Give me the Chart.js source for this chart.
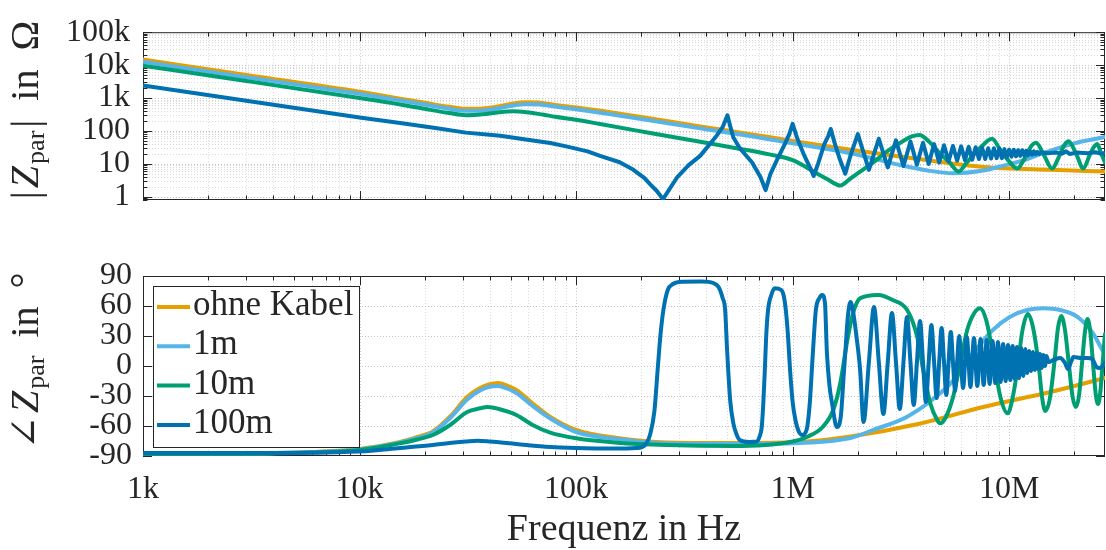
<!DOCTYPE html>
<html>
<head>
<meta charset="utf-8">
<title>Z_par Frequenzgang</title>
<script src="https://cdn.jsdelivr.net/npm/chart.js@4.4.0/dist/chart.umd.min.js"></script>
<style>
  html, body { margin: 0; padding: 0; background: #ffffff; }
  #wrap { position: relative; width: 1106px; height: 550px; overflow: hidden; background: #ffffff; }
  #wrap canvas { position: absolute; left: 0; }
  #magCanvas { top: 0; }
  #phaseCanvas { top: 240px; }
  .ttl { position: absolute; font-family: 'Liberation Serif', 'Times New Roman', 'DejaVu Serif', serif;
         color: #262626; white-space: nowrap; line-height: 40px; height: 40px; font-size: 40px; }
  .vt { transform: translate(-50%, -50%) rotate(-90deg); }
  .ttl .it { font-style: italic; }
  .ttl .sb { font-size: 0.65em; position: relative; top: 0.24em; }
  .ttl .g { display: inline-block; }
  #magTitle { left: 25px; top: 110px; }
  #phaseTitle { left: 25px; top: 361px; }
  #freqTitle { left: 624px; top: 508px; transform: translateX(-50%); font-size: 38px; line-height: 38px; height: 38px; }
</style>
</head>
<body>
<div id="wrap">
  <canvas id="magCanvas" width="1106" height="240" style="width:1106px;height:240px"></canvas>
  <canvas id="phaseCanvas" width="1106" height="310" style="width:1106px;height:310px"></canvas>
  <div id="magTitle" class="ttl vt">|<span class="g" style="width:3px"></span><span class="it">Z</span><span class="g" style="width:2px"></span><span class="sb">par</span><span class="g" style="width:3px"></span>|<span class="g" style="width:19px"></span>in<span class="g" style="width:19px"></span>&#937;</div>
  <div id="phaseTitle" class="ttl vt">&#8736;<span class="g" style="width:3px"></span><span class="it">Z</span><span class="g" style="width:2px"></span><span class="sb">par</span><span class="g" style="width:18px"></span>in<span class="g" style="width:18px"></span>&#176;</div>
  <div id="freqTitle" class="ttl">Frequenz in Hz</div>
</div>
<script>
// ---------------- data ----------------
const seriesLabels = ['ohne Kabel', '1m', '10m', '100m'];
const seriesColors = ['#E69F00', '#56B4E9', '#009E73', '#0072B2'];

const xMajorTicks = [1e3, 1e4, 1e5, 1e6, 1e7];
const xTickLabels = ['1k', '10k', '100k', '1M', '10M'];
const xRange = [1e3, 2.77e7];

const magMajorTicks = [1, 10, 100, 1e3, 1e4, 1e5];
const magTickLabels = ['1', '10', '100', '1k', '10k', '100k'];
const magRange = [0.8, 1e5];

const phaseTicks = [-90, -60, -30, 0, 30, 60, 90];
const phaseTickLabels = ['-90', '-60', '-30', '0', '30', '60', '90'];
const phaseRange = [-90, 90];

// |Z_par| in Ohm
const fMagOhne = [1e3, 3e3, 1e4, 1.54e4, 2e4, 2.6e4, 3.1e4, 3.7e4, 4.4e4, 5e4, 5.9e4, 6.8e4, 8e4, 1e5, 1.3e5, 2e5, 3.74e5, 6.37e5, 1e6, 1.85e6, 3.8e6, 7.6e6, 1.55e7, 2.77e7];
const magOhne  = [14800, 5000, 1550, 960, 720, 540, 470, 480, 560, 660, 740, 720, 620, 520, 410, 265, 138, 80, 50, 27, 14, 8.1, 6.6, 5.9];

const fMag1m = [1e3, 3e3, 1e4, 1.54e4, 2e4, 2.6e4, 3.1e4, 3.7e4, 4.4e4, 5e4, 5.9e4, 6.8e4, 8e4, 1e5, 1.3e5, 2e5, 3.74e5, 6.37e5, 1e6, 1.85e6, 3.14e6, 4.2e6, 5.5e6, 7.5e6, 9.5e6, 1.15e7, 1.4e7, 1.66e7, 2e7, 2.34e7, 2.77e7];
const mag1m  = [12600, 4300, 1350, 850, 640, 470, 410, 420, 490, 580, 650, 640, 550, 455, 355, 232, 120, 70, 42, 21, 9.2, 6.3, 5.2, 6.2, 9, 12.5, 20, 29, 42, 53, 66];

const fMag10m = [1e3, 3e3, 1e4, 1.54e4, 2e4, 2.6e4, 3.1e4, 3.7e4, 4.4e4, 5.1e4, 5.9e4, 7e4, 8e4, 1e5, 1.29e5, 2.2e5, 3.74e5, 5.5e5, 7.8e5, 1e6, 1.29e6, 1.45e6, 1.66e6, 1.85e6, 2.1e6, 2.35e6, 2.8e6, 3.2e6, 3.55e6, 3.85e6, 4.3e6, 4.75e6, 5.3e6, 5.85e6, 6.3e6, 6.9e6, 7.6e6, 8.0e6, 8.35e6, 9.0e6, 9.8e6, 1.09e7, 1.18e7, 1.27e7, 1.33e7, 1.45e7, 1.58e7, 1.7e7, 1.8e7, 1.88e7, 2.04e7, 2.2e7, 2.35e7, 2.45e7, 2.55e7, 2.65e7, 2.77e7];
const mag10m  = [9600, 3300, 1000, 640, 470, 350, 300, 320, 370, 395, 370, 315, 270, 220, 162, 87, 47, 30, 19.5, 13, 5.2, 3.4, 2.2, 3.6, 6.5, 11, 27, 47, 68, 76, 45, 22, 11, 5.9, 10, 20, 38, 52, 58, 30, 14, 7.2, 15, 36, 44, 18, 7.2, 17, 38, 49, 20, 7.2, 18, 31, 40, 22, 11];

const fMag100m = [1e3, 3e3, 1e4, 1.54e4, 2.2e4, 3.1e4, 4.46e4, 6.3e4, 7.6e4, 9e4, 1.13e5, 1.29e5, 1.59e5, 1.84e5, 2.07e5, 2.2e5, 2.36e5, 2.52e5, 2.92e5, 3.3e5, 3.74e5, 4.4e5, 4.75e5, 5.0e5, 5.15e5, 5.32e5, 5.7e5, 6.5e5, 7.1e5, 7.5e5, 7.9e5, 8.5e5, 9.2e5, 9.65e5, 1.0e6, 1.05e6, 1.12e6, 1.2e6, 1.25e6, 1.31e6, 1.4e6, 1.46e6, 1.5e6, 1.56e6, 1.65e6, 1.75e6, 1.85e6, 1.94e6, 2.0e6,
  2.25e6, 2.5e6, 2.75e6, 3.0e6, 3.25e6, 3.5e6, 3.75e6, 4.0e6, 4.25e6, 4.5e6, 4.75e6, 5.0e6, 5.25e6, 5.5e6, 5.75e6, 6.0e6, 6.25e6, 6.5e6, 6.75e6, 7.0e6, 7.25e6, 7.5e6, 7.75e6, 8.0e6, 8.25e6, 8.5e6, 8.75e6, 9.0e6, 9.25e6, 9.5e6, 9.75e6, 1.0e7, 1.025e7, 1.05e7, 1.075e7, 1.1e7, 1.125e7, 1.15e7, 1.175e7, 1.2e7, 1.225e7, 1.25e7, 1.275e7, 1.3e7, 1.325e7, 1.35e7, 1.375e7, 1.4e7,
  1.5e7, 1.65e7, 1.75e7, 1.83e7, 1.9e7, 2.05e7, 2.3e7, 2.5e7, 2.65e7, 2.77e7];
const mag100m  = [2400, 830, 257, 175, 125, 89, 72, 51, 43, 34, 24, 17.5, 11.2, 6.6, 3.7, 2.4, 1.5, 0.85, 3.8, 9, 17.5, 64, 130, 300, 140, 64, 30, 11, 4, 1.6, 5, 14, 40, 80, 165, 60, 21, 8, 4.3, 10, 40, 70, 115, 45, 14, 5, 18, 45, 80,
  6.6, 58, 7.8, 52, 8.6, 48, 9.5, 44, 10, 40, 11, 37, 12, 35, 12.5, 34, 13, 33, 13.5, 32, 14, 31, 14, 30, 14.5, 30, 15, 29, 15, 28, 16, 27, 16.5, 27, 17, 26, 17.5, 26, 18, 25, 18.5, 24, 19, 24, 19.5, 23, 20, 22.5,
  21, 22, 20.5, 24, 20, 22, 21, 22.5, 20.5, 21.5];

// angle(Z_par) in degrees
const fPhOhne = [1e3, 3e3, 6e3, 1e4, 1.54e4, 1.85e4, 2.18e4, 2.62e4, 3.14e4, 3.6e4, 3.95e4, 4.36e4, 4.8e4, 5.3e4, 6.3e4, 7.6e4, 1e5, 1.55e5, 2.62e5, 5.3e5, 1.08e6, 1.85e6, 3.8e6, 7.6e6, 1.55e7, 2.77e7];
const phOhne  = [-88, -87.5, -86, -83, -76, -71, -65.5, -50.5, -31, -22, -18.5, -17, -19.5, -24, -37.5, -51, -64, -72, -76.5, -77, -76, -70.5, -58, -41, -26, -12];

const fPh1m = [1e3, 3e3, 6e3, 1e4, 1.54e4, 1.85e4, 2.18e4, 2.62e4, 3.14e4, 3.6e4, 3.95e4, 4.36e4, 4.8e4, 5.3e4, 6.3e4, 7.6e4, 1e5, 1.55e5, 2.62e5, 5.3e5, 1.08e6, 1.85e6, 2.35e6, 3.38e6, 4.8e6, 5.7e6, 6.4e6, 6.8e6, 8.4e6, 1.01e7, 1.21e7, 1.44e7, 1.72e7, 2.06e7, 2.44e7, 2.6e7, 2.77e7];
const ph1m  = [-88, -87.5, -86, -83.5, -76.5, -72, -66.5, -52, -33.5, -24.5, -21, -20, -22.5, -27, -40, -52.5, -66, -73, -77.5, -78, -77, -72, -64, -50.7, -27.3, -10.7, 6, 12.7, 36, 49.3, 56, 57.7, 56, 49.3, 32.7, 22, 11];

const fPh10m = [1e3, 3e3, 6e3, 1e4, 1.54e4, 1.85e4, 2.18e4, 2.62e4, 3.14e4, 3.6e4, 3.9e4, 4.4e4, 5.3e4, 6.3e4, 7.6e4, 1e5, 1.55e5, 2.62e5, 5.3e5, 9.73e5, 1.17e6, 1.38e6, 1.54e6, 1.66e6, 1.79e6, 1.9e6, 2.05e6, 2.48e6, 2.9e6, 3.38e6, 3.76e6, 4.01e6, 4.32e6, 4.65e6, 4.8e6, 5.1e6, 5.51e6, 5.94e6, 6.4e6, 6.9e6, 7.35e6, 7.85e6, 8.4e6, 9.1e6, 9.85e6, 1.03e7, 1.09e7, 1.15e7, 1.22e7, 1.29e7, 1.37e7, 1.42e7, 1.47e7, 1.54e7, 1.62e7, 1.68e7, 1.74e7, 1.81e7, 1.89e7, 1.96e7, 2.03e7, 2.1e7, 2.17e7, 2.24e7, 2.3e7, 2.37e7, 2.44e7, 2.51e7, 2.57e7, 2.63e7, 2.7e7, 2.77e7];
const ph10m  = [-88.5, -88, -86.5, -84, -77.3, -73.5, -69, -59, -46, -42.3, -41, -43, -49, -59, -66.7, -72.3, -76.7, -79, -80, -76, -70.7, -60.7, -44, -17, 26, 52.7, 67.7, 71, 66, 56, 29.3, -4, -37.3, -54, -57.3, -51, -30.7, 2.7, 36, 53, 57.7, 45, 12.7, -30.7, -47.3, -35, -4, 35, 52, 38, 0, -32, -45, -33, 5, 38, 50, 36, 0, -30, -41, -30, 3, 35, 47, 34, 2, -28, -38, -28, 2, 32];

const fPh100m = [1e3, 3e3, 1e4, 1.54e4, 2.18e4, 2.6e4, 3.1e4, 3.5e4, 4e4, 5.3e4, 7.6e4, 1e5, 1.5e5, 1.9e5, 2.08e5, 2.2e5, 2.3e5, 2.38e5, 2.45e5, 2.53e5, 2.65e5, 2.8e5, 3.1e5, 3.8e5, 4.3e5, 4.55e5, 4.75e5, 4.88e5, 4.97e5, 5.04e5, 5.15e5, 5.32e5, 5.5e5, 5.7e5, 6.3e5, 6.85e5, 7.05e5, 7.2e5, 7.33e5, 7.44e5, 7.55e5, 7.7e5, 8.0e5, 8.26e5, 8.86e5, 9.1e5, 9.3e5, 9.52e5, 9.73e5, 1.0e6, 1.03e6, 1.07e6, 1.11e6, 1.15e6, 1.17e6, 1.2e6, 1.24e6, 1.28e6, 1.33e6, 1.37e6, 1.41e6, 1.44e6, 1.48e6, 1.52e6, 1.6e6, 1.67e6, 1.72e6, 1.75e6, 1.8e6, 1.85e6, 1.9e6, 1.97e6, 2.05e6, 2.125e6,
  2.25e6, 2.375e6, 2.5e6, 2.625e6, 2.75e6, 2.875e6, 3.0e6, 3.125e6, 3.25e6, 3.375e6, 3.5e6, 3.625e6, 3.75e6, 3.875e6, 4.0e6, 4.125e6, 4.25e6, 4.375e6, 4.5e6, 4.625e6, 4.75e6, 4.875e6, 5.0e6, 5.125e6, 5.25e6, 5.375e6, 5.5e6, 5.625e6, 5.75e6, 5.875e6,
  6.125e6, 6.375e6, 6.625e6, 6.875e6, 7.125e6, 7.375e6, 7.625e6, 7.875e6, 8.125e6, 8.375e6, 8.625e6, 8.875e6, 9.125e6, 9.375e6, 9.625e6, 9.875e6, 1.0125e7, 1.0375e7, 1.0625e7, 1.0875e7, 1.1125e7, 1.1375e7, 1.1625e7, 1.1875e7, 1.2125e7, 1.2375e7, 1.2625e7, 1.2875e7, 1.3125e7, 1.3375e7, 1.3625e7, 1.3875e7, 1.4125e7, 1.4375e7, 1.4625e7, 1.4875e7,
  1.52e7, 1.6e7, 1.72e7, 1.81e7, 1.87e7, 1.93e7, 1.98e7, 2.15e7, 2.3e7, 2.42e7, 2.53e7, 2.62e7, 2.77e7];
const ph100m  = [-87, -87, -85.5, -82, -79, -77, -75.5, -74.7, -75.5, -78, -81, -82, -82.5, -82, -79, -68, -45, -4, 30, 56, 76, 82, 84.3, 84.5, 83, 79, 68, 56, 20, -4, -35, -57, -68, -74, -76, -75.5, -70, -61, -35, -4, 30, 56, 72, 77.7, 76, 70, 56, 30, -4, -36, -54, -66, -69, -66, -60, -37, 13, 56, 68, 71, 63, 13, -20, -37, -61, -50, -10, 13, 50, 64, 55, 30, -4, -56,
  4, 59, 4, -48, 4, 53, 4, -43, 4, 49, 4, -39, 4, 45, 4, -36, 4, 41, 4, -32, 4, 38, 4, -29, 4, 34, 4, -25, 4, 30,
  -22, 29, -21, 28, -20, 27, -19, 26, -18, 25, -17, 24, -16, 22, -15, 21, -14, 20, -13, 19, -12, 18, -10, 17, -7, 15, -5, 14, -4, 13, -3, 12, -2, 11, 0, 10,
  4, 6, 8, 3, -3, 4, 9, 8, 8, 7, -1, -2, 3];

// ---------------- helpers ----------------
const SERIF = "'Liberation Serif', 'Times New Roman', 'DejaVu Serif', serif";
const INK = '#262626';

function pts(xs, ys, name) {
  if (xs.length !== ys.length) throw new Error('length mismatch in ' + name + ': ' + xs.length + ' vs ' + ys.length);
  return xs.map((x, i) => ({ x: x, y: ys[i] }));
}
function withMinors(majors, lo, hi) {
  const out = [];
  majors.forEach(m => {
    for (let k = 1; k <= 9; k++) {
      const v = +(m * k).toPrecision(12);
      if (v >= lo && v <= hi) out.push(v);
    }
  });
  return out;
}
function isMajor(v, majors) { return majors.some(m => Math.abs(v - m) <= Math.abs(m) * 1e-9 + 1e-12); }
function labelFor(v, majors, labels) {
  const i = majors.findIndex(m => Math.abs(v - m) <= Math.abs(m) * 1e-9 + 1e-12);
  return i >= 0 ? labels[i] : '';
}

const xAllTicks = withMinors([1e3, 1e4, 1e5, 1e6, 1e7], xRange[0], xRange[1]);
const magAllTicks = withMinors([0.1, 1, 10, 100, 1e3, 1e4, 1e5], magRange[0], magRange[1]);

function makeDatasets(sets, linearLast) {
  return sets.map((s, i) => {
    const smooth = !(linearLast && i === sets.length - 1);
    return {
      label: seriesLabels[i],
      data: pts(s[0], s[1], seriesLabels[i]),
      borderColor: seriesColors[i],
      backgroundColor: seriesColors[i],
      borderWidth: 4,
      pointRadius: 0,
      tension: 0,
      cubicInterpolationMode: smooth ? 'monotone' : 'default',
      fill: false,
      order: 3 - i,
      borderJoinStyle: 'round',
      borderCapStyle: 'round'
    };
  });
}

// MATLAB-like frame: dotted grid, inward ticks on all four sides, box
const matlabAxes = {
  id: 'matlabAxes',
  beforeDatasetsDraw(chart, args, o) {
    const ctx = chart.ctx, a = chart.chartArea;
    const xs = chart.scales.x, ys = chart.scales.y;
    ctx.save();
    ctx.lineWidth = 1;
    ctx.setLineDash([1, 2]);
    xs.ticks.forEach(t => {
      const p = Math.round(xs.getPixelForValue(t.value)) + 0.5;
      if (p < a.left + 2 || p > a.right - 2) return;
      ctx.strokeStyle = isMajor(t.value, o.xMajors) ? o.majorGrid : o.minorGrid;
      ctx.beginPath(); ctx.moveTo(p, a.top); ctx.lineTo(p, a.bottom); ctx.stroke();
    });
    ys.ticks.forEach(t => {
      const major = isMajor(t.value, o.yMajors);
      if (!major && !o.yMinor) return;
      const p = Math.round(ys.getPixelForValue(t.value)) + 0.5;
      if (p < a.top + 2 || p > a.bottom - 2) return;
      ctx.strokeStyle = major ? o.majorGrid : o.minorGrid;
      ctx.beginPath(); ctx.moveTo(a.left, p); ctx.lineTo(a.right, p); ctx.stroke();
    });
    ctx.setLineDash([]);
    ctx.strokeStyle = INK;
    xs.ticks.forEach(t => {
      const len = isMajor(t.value, o.xMajors) ? 9 : 4.5;
      const p = Math.round(xs.getPixelForValue(t.value)) + 0.5;
      ctx.beginPath();
      ctx.moveTo(p, a.bottom); ctx.lineTo(p, a.bottom - len);
      ctx.moveTo(p, a.top); ctx.lineTo(p, a.top + len);
      ctx.stroke();
    });
    ys.ticks.forEach(t => {
      const major = isMajor(t.value, o.yMajors);
      if (!major && !o.yMinor) return;
      const len = major ? 9 : 4.5;
      const p = Math.round(ys.getPixelForValue(t.value)) + 0.5;
      ctx.beginPath();
      ctx.moveTo(a.left, p); ctx.lineTo(a.left + len, p);
      ctx.moveTo(a.right, p); ctx.lineTo(a.right - len, p);
      ctx.stroke();
    });
    ctx.strokeRect(a.left + 0.5, a.top + 0.5, a.right - a.left - 1, a.bottom - a.top - 1);
    ctx.restore();
  }
};

// boxed legend inside the phase axes, top-left
const boxLegend = {
  id: 'boxLegend',
  afterDatasetsDraw(chart, args, o) {
    if (!o.show) return;
    const ctx = chart.ctx, a = chart.chartArea;
    const L = a.left + o.dx, T = a.top + o.dy;
    ctx.save();
    ctx.fillStyle = '#ffffff';
    ctx.fillRect(L, T, o.w, o.h);
    ctx.strokeStyle = INK; ctx.lineWidth = 1;
    ctx.strokeRect(L + 0.5, T + 0.5, o.w - 1, o.h - 1);
    ctx.font = o.fontSize + 'px ' + SERIF;
    ctx.textBaseline = 'alphabetic';
    ctx.textAlign = 'left';
    chart.data.datasets.forEach((ds, i) => {
      const base = T + o.firstBaseline + i * o.rowGap;
      ctx.strokeStyle = ds.borderColor; ctx.lineWidth = 4; ctx.lineCap = 'butt';
      ctx.beginPath(); ctx.moveTo(L + 4, base - 8); ctx.lineTo(L + 37, base - 8); ctx.stroke();
      ctx.fillStyle = INK;
      ctx.fillText(ds.label, L + 40, base);
    });
    ctx.restore();
  }
};

function xScale(showLabels, height) {
  return {
    type: 'logarithmic', min: xRange[0], max: xRange[1],
    grid: { display: false, drawTicks: false },
    border: { display: false },
    ticks: {
      display: showLabels, autoSkip: false, maxRotation: 0, minRotation: 0, padding: 14,
      color: INK, font: { family: SERIF, size: 32 },
      callback: v => labelFor(v, xMajorTicks, xTickLabels)
    },
    afterBuildTicks: s => { s.ticks = xAllTicks.map(v => ({ value: v })); },
    afterFit: s => { s.height = height; }
  };
}

const common = { responsive: false, animation: false, events: [], devicePixelRatio: 1 };

// ---------------- magnitude chart ----------------
new Chart(document.getElementById('magCanvas'), {
  type: 'line',
  data: { datasets: makeDatasets([[fMagOhne, magOhne], [fMag1m, mag1m], [fMag10m, mag10m], [fMag100m, mag100m]], true) },
  options: Object.assign({}, common, {
    layout: { padding: { top: 21, right: 1, left: 0, bottom: 0 } },
    plugins: {
      legend: { display: false }, tooltip: { enabled: false },
      matlabAxes: { xMajors: xMajorTicks, yMajors: magMajorTicks, yMinor: true, majorGrid: '#c4c4c4', minorGrid: '#dadada' },
      boxLegend: { show: false }
    },
    scales: {
      x: xScale(false, 40),
      y: {
        type: 'logarithmic', min: magRange[0], max: magRange[1],
        grid: { display: false, drawTicks: false }, border: { display: false },
        ticks: { autoSkip: false, padding: 13, color: INK, font: { family: SERIF, size: 32 },
                 callback: v => labelFor(v, magMajorTicks, magTickLabels) },
        afterBuildTicks: s => { s.ticks = magAllTicks.map(v => ({ value: v })); },
        afterFit: s => { s.width = 143; }
      }
    }
  }),
  plugins: [matlabAxes, boxLegend]
});

// ---------------- phase chart ----------------
new Chart(document.getElementById('phaseCanvas'), {
  type: 'line',
  data: { datasets: makeDatasets([[fPhOhne, phOhne], [fPh1m, ph1m], [fPh10m, ph10m], [fPh100m, ph100m]], false) },
  options: Object.assign({}, common, {
    layout: { padding: { top: 36, right: 1, left: 0, bottom: 0 } },
    plugins: {
      legend: { display: false }, tooltip: { enabled: false },
      matlabAxes: { xMajors: xMajorTicks, yMajors: phaseTicks, yMinor: false, majorGrid: '#c4c4c4', minorGrid: '#dadada' },
      boxLegend: { show: true, dx: 10, dy: 10, w: 207, h: 162, firstBaseline: 29, rowGap: 39.3, fontSize: 35 }
    },
    scales: {
      x: xScale(true, 94),
      y: {
        type: 'linear', min: phaseRange[0], max: phaseRange[1],
        grid: { display: false, drawTicks: false }, border: { display: false },
        ticks: { autoSkip: false, padding: 11, color: INK, font: { family: SERIF, size: 32 },
                 callback: v => labelFor(v, phaseTicks, phaseTickLabels) },
        afterBuildTicks: s => { s.ticks = phaseTicks.map(v => ({ value: v })); },
        afterFit: s => { s.width = 143; }
      }
    }
  }),
  plugins: [matlabAxes, boxLegend]
});
</script>
</body>
</html>
